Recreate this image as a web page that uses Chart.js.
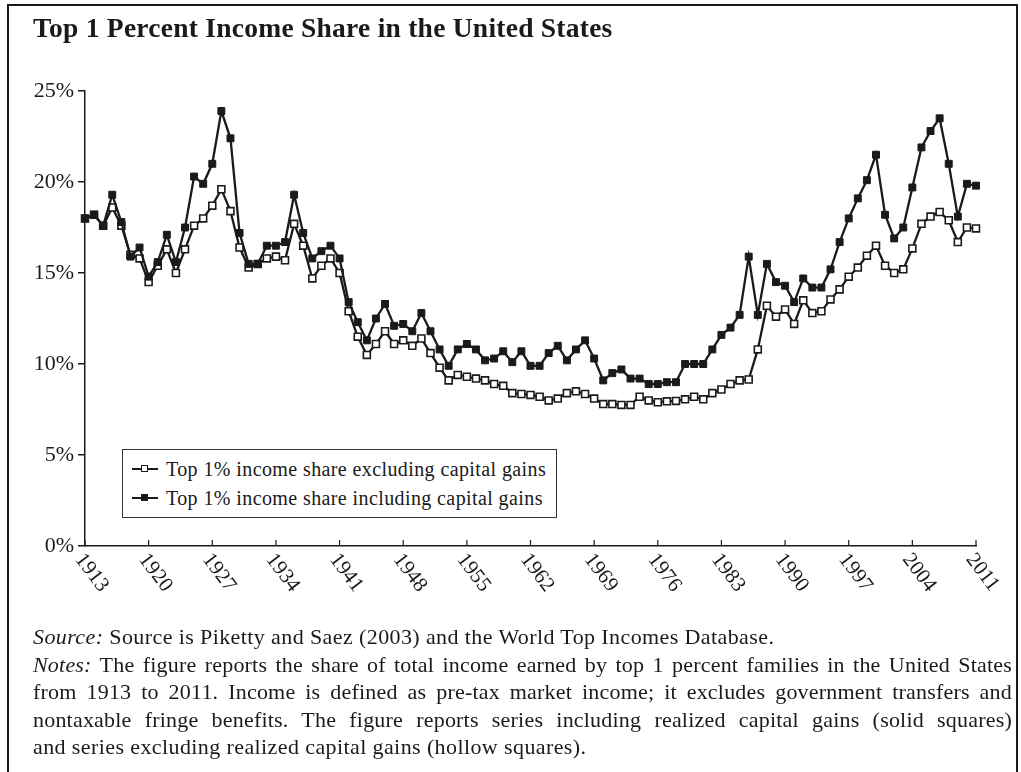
<!DOCTYPE html>
<html>
<head>
<meta charset="utf-8">
<script src="https://cdn.jsdelivr.net/npm/chart.js@4.4.1/dist/chart.umd.min.js"></script>
<style>
  html, body { margin:0; padding:0; background:#fff; }
  body { width:1021px; height:772px; position:relative; overflow:hidden; font-family:"Liberation Serif", serif; color:#1a1a1a; }
  #frame { position:absolute; left:7px; top:4px; width:1007px; height:800px; border:2px solid #1a1a1a; border-bottom:none; }
  #title { position:absolute; left:33px; top:12px; font-weight:bold; font-size:27.5px; letter-spacing:0.25px; white-space:nowrap; }
  #wrap { position:absolute; left:0; top:0; width:1021px; height:640px; }
  #legend { position:absolute; left:122px; top:449px; width:433px; height:67px; border:1px solid #333; background:#fff; }
  .row { position:absolute; left:9px; font-size:20px; letter-spacing:0.4px; white-space:nowrap; line-height:20px; }
  .sample { display:inline-block; position:relative; width:26px; height:2px; background:#1a1a1a; vertical-align:middle; margin-right:8px; top:-2px; }
  .sample i { position:absolute; left:9px; top:-3px; width:7px; height:7px; box-sizing:border-box; border:1.5px solid #1a1a1a; background:#fff; }
  .sample i.solid { background:#1a1a1a; }
  .note { position:absolute; left:33px; width:979px; font-size:22px; letter-spacing:0.4px; line-height:22px; white-space:nowrap; }
  .just { text-align:justify; text-align-last:justify; white-space:normal; letter-spacing:0.2px; }
</style>
</head>
<body>
<div id="frame"></div>
<div id="wrap"><canvas id="c" width="1021" height="640"></canvas></div>
<div id="title">Top 1 Percent Income Share in the United States</div>
<div id="legend"></div>
<div class="note" style="top:626px"><i>Source:</i> Source is Piketty and Saez (2003) and the World Top Incomes Database.</div>
<div class="note just" style="top:654px"><i>Notes:</i> The figure reports the share of total income earned by top 1 percent families in the United States</div>
<div class="note just" style="top:681px">from 1913 to 2011. Income is defined as pre-tax market income; it excludes government transfers and</div>
<div class="note just" style="top:709px">nontaxable fringe benefits. The figure reports series including realized capital gains (solid squares)</div>
<div class="note" style="top:736px">and series excluding realized capital gains (hollow squares).</div>
<script>
const years = [1913,1914,1915,1916,1917,1918,1919,1920,1921,1922,1923,1924,1925,1926,1927,1928,1929,1930,1931,1932,
  1933,1934,1935,1936,1937,1938,1939,1940,1941,1942,1943,1944,1945,1946,1947,1948,1949,1950,1951,1952,
  1953,1954,1955,1956,1957,1958,1959,1960,1961,1962,1963,1964,1965,1966,1967,1968,1969,1970,1971,1972,
  1973,1974,1975,1976,1977,1978,1979,1980,1981,1982,1983,1984,1985,1986,1987,1988,1989,1990,1991,1992,
  1993,1994,1995,1996,1997,1998,1999,2000,2001,2002,2003,2004,2005,2006,2007,2008,2009,2010,2011];

const shareExclCG = [18.0,18.2,17.6,18.6,17.6,16.0,15.8,14.5,15.4,16.3,15.0,16.3,17.6,18.0,18.7,19.6,18.4,16.4,15.3,15.5,
  15.8,15.9,15.7,17.7,16.5,14.7,15.4,15.8,15.0,12.9,11.5,10.5,11.1,11.8,11.1,11.3,11.0,11.4,10.6,9.8,
  9.1,9.4,9.3,9.2,9.1,8.9,8.8,8.4,8.35,8.3,8.2,8.0,8.1,8.4,8.5,8.35,8.1,7.8,7.8,7.75,
  7.75,8.2,8.0,7.9,7.95,7.97,8.06,8.2,8.06,8.4,8.6,8.9,9.1,9.15,10.8,13.2,12.6,13.0,12.2,13.5,
  12.8,12.9,13.55,14.1,14.8,15.3,15.95,16.5,15.4,15.0,15.2,16.35,17.7,18.1,18.35,17.9,16.7,17.5,17.45];

const shareInclCG = [18.0,18.2,17.6,19.3,17.8,15.9,16.4,14.8,15.6,17.1,15.6,17.5,20.3,19.9,21.0,23.9,22.4,17.2,15.5,15.5,
  16.5,16.5,16.7,19.3,17.2,15.8,16.2,16.5,15.8,13.4,12.3,11.3,12.5,13.3,12.1,12.2,11.8,12.8,11.8,10.8,
  9.9,10.8,11.1,10.8,10.2,10.3,10.7,10.1,10.7,9.9,9.9,10.6,11.0,10.2,10.8,11.3,10.3,9.1,9.5,9.7,
  9.2,9.2,8.9,8.9,9.0,9.0,10.0,10.0,10.0,10.8,11.6,12.0,12.7,15.9,12.7,15.5,14.5,14.3,13.4,14.7,
  14.2,14.2,15.2,16.7,18.0,19.1,20.1,21.5,18.2,16.9,17.5,19.7,21.9,22.8,23.5,21.0,18.1,19.9,19.8];

const seriesNames = ["Top 1% income share excluding capital gains", "Top 1% income share including capital gains"];
const xTickYears = [1913,1920,1927,1934,1941,1948,1955,1962,1969,1976,1983,1990,1997,2004,2011];
const yTickValues = [0,5,10,15,20,25];

const INK = '#1a1a1a';
const FONT = '"Liberation Serif", serif';

const xLabelPlugin = {
  id: 'xLabelPlugin',
  afterDraw(chart) {
    const s = chart.scales.x, ctx = chart.ctx, b = chart.chartArea.bottom;
    ctx.save();
    ctx.strokeStyle = INK; ctx.lineWidth = 1.2;
    xTickYears.forEach(v => {
      const px = s.getPixelForValue(v);
      ctx.beginPath(); ctx.moveTo(px, b); ctx.lineTo(px, b - 6); ctx.stroke();
      ctx.save();
      ctx.translate(px - 6, b + 10);
      ctx.rotate(53 * Math.PI / 180);
      ctx.font = '21px ' + FONT;
      ctx.fillStyle = INK;
      ctx.textAlign = 'left';
      ctx.textBaseline = 'middle';
      ctx.fillText(String(v), 0, 0);
      ctx.restore();
    });
    ctx.restore();
  }
};

function pts(vals) { return years.map((yr, i) => ({ x: yr, y: vals[i] })); }

new Chart(document.getElementById('c'), {
  type: 'line',
  data: {
    datasets: [
      { label: seriesNames[1], data: pts(shareInclCG), order: 0, clip: false,
        borderColor: INK, borderWidth: 2.3, tension: 0,
        pointStyle: 'rect', pointRadius: 4.9, pointBackgroundColor: INK, pointBorderColor: INK, pointBorderWidth: 1 },
      { label: seriesNames[0], data: pts(shareExclCG), order: 1, clip: false,
        borderColor: INK, borderWidth: 2.3, tension: 0,
        pointStyle: 'rect', pointRadius: 4.9, pointBackgroundColor: '#fff', pointBorderColor: INK, pointBorderWidth: 1.6 }
    ]
  },
  options: {
    responsive: false, animation: false, devicePixelRatio: 1,
    layout: { padding: { left: 0, top: 91, right: 45, bottom: 94 } },
    plugins: { legend: { display: false }, tooltip: { enabled: false } },
    scales: {
      x: {
        type: 'linear', min: 1913, max: 2011,
        afterBuildTicks: s => { s.ticks = xTickYears.map(v => ({ value: v })); },
        ticks: { display: false },
        grid: { display: false },
        border: { display: true, color: INK, width: 1.5 },
        afterFit: s => { s.height = 0; }
      },
      y: {
        min: 0, max: 25,
        afterBuildTicks: s => { s.ticks = yTickValues.map(v => ({ value: v })); },
        ticks: { callback: v => v + '%', font: { family: FONT, size: 22 }, color: INK, padding: 4 },
        grid: { drawOnChartArea: false, tickLength: 7, color: INK, lineWidth: 1.5 },
        border: { display: true, color: INK, width: 1.5 },
        afterFit: s => { s.width = 85; }
      }
    }
  },
  plugins: [xLabelPlugin]
});

// legend built from the series names
const lg = document.getElementById('legend');
[[seriesNames[0], false, 9], [seriesNames[1], true, 38]].forEach(([name, solid, top]) => {
  const r = document.createElement('div');
  r.className = 'row'; r.style.top = top + 'px';
  r.innerHTML = '<span class="sample"><i class="' + (solid ? 'solid' : '') + '"></i></span>' + name;
  lg.appendChild(r);
});
</script>
</body>
</html>
